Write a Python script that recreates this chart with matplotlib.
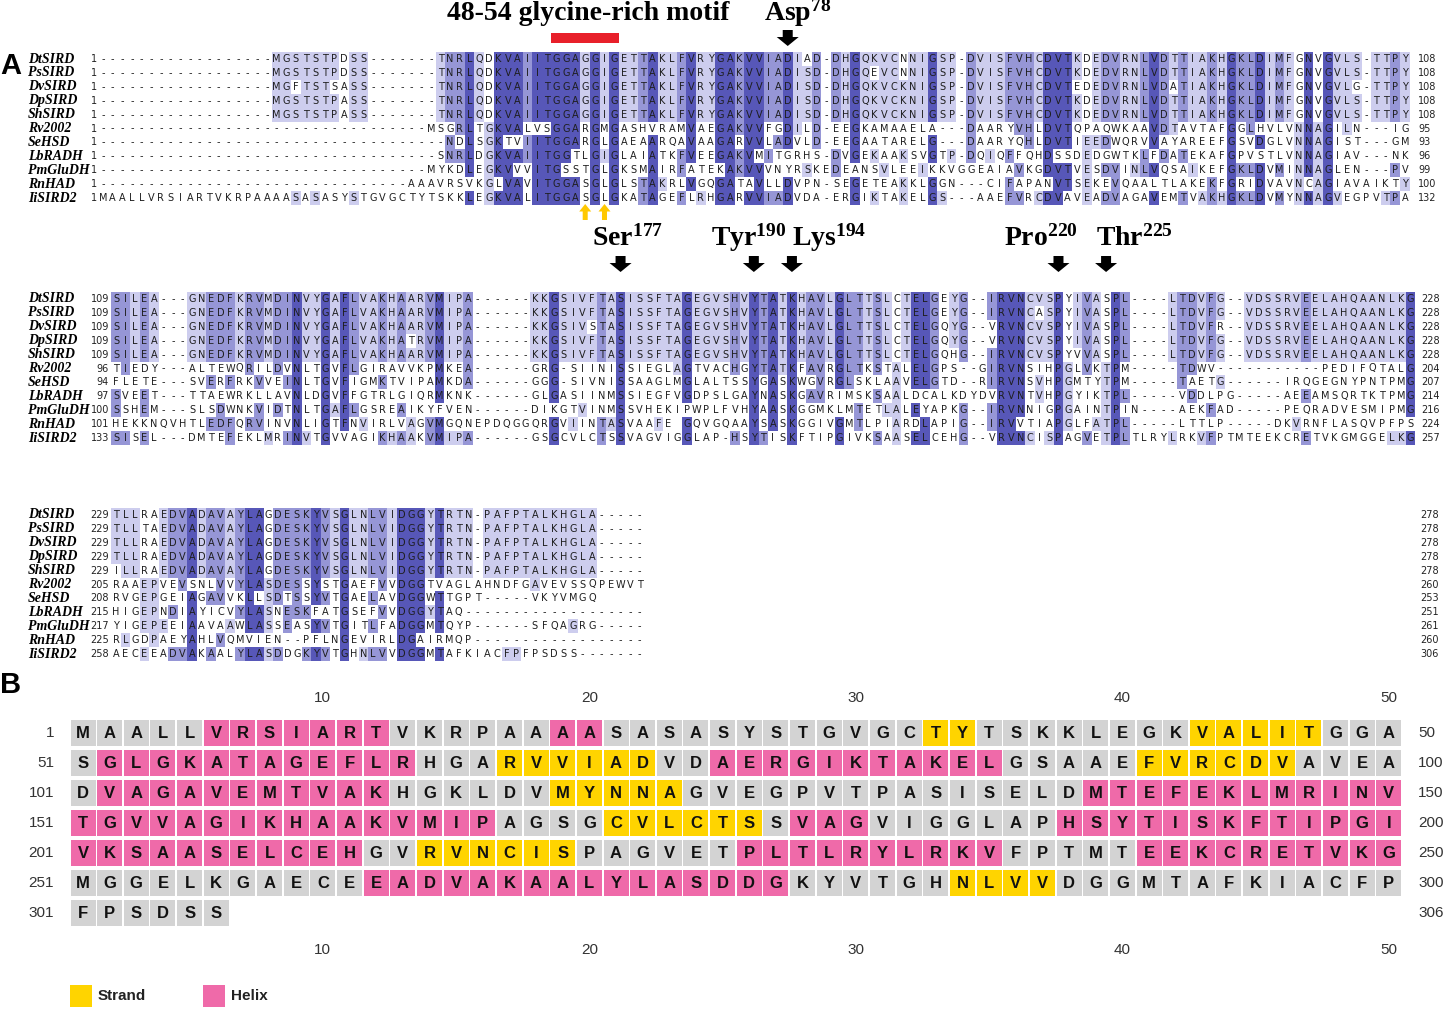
import numpy as np
import matplotlib
matplotlib.use('Agg')
import matplotlib.pyplot as plt
from matplotlib.patches import Rectangle, Polygon
from matplotlib.collections import PatchCollection

plt.rcParams['mathtext.fontset'] = 'custom'
plt.rcParams['mathtext.rm'] = 'Liberation Serif:bold'
plt.rcParams['mathtext.default'] = 'rm'

# ---------------- data ----------------
names = ['DtSIRD', 'PsSIRD', 'DvSIRD', 'DpSIRD', 'ShSIRD', 'Rv2002',
         'SeHSD', 'LbRADH', 'PmGluDH', 'RnHAD', 'IiSIRD2']

block1 = [
    '-' * 18 + 'MGSTSTPDSS' + '-' * 7 + 'TNRLQDKVAIITGGAGGIGETTAKLFVRYGAKVVIADIAD-DHGQKVCNNIGSP-DVISFVHCDVTKDEDVRNLVDTTIAKHGKLDIMFGNVGVLS-TTPY',
    '-' * 18 + 'MGSTSTPDSS' + '-' * 7 + 'TNRLQDKVAIITGGAGGIGETTAKLFVRYGAKVVIADISD-DHGQEVCNNIGSP-DVISFVHCDVTKDEDVRNLVDTTIAKHGKLDIMFGNVGVLS-TTPY',
    '-' * 18 + 'MGFTSTSASS' + '-' * 7 + 'TNRLQDKVAIITGGAGGIGETTAKLFVRYGAKVVIADISD-DHGQKVCKNIGSP-DVISFVHCDVTEDEDVRNLVDATIAKHGKLDIMFGNVGVLG-TTPY',
    '-' * 18 + 'MGSTSTPASS' + '-' * 7 + 'TNRLQDKVAIITGGAGGIGETTAKLFVRYGAKVVIADISD-DHGQKVCKNIGSP-DVISFVHCDVTKDEDVRNLVDTTIAKHGKLDIMFGNVGVLS-TTPY',
    '-' * 18 + 'MGSTSTPASS' + '-' * 7 + 'TNRLQDKVAIITGGAGGIGETTAKLFVRYGAKVVIADISD-DHGQKVCKNIGSP-DVISFVHCDVTKDEDVRNLVDTTIAKHGKLDIMFGNVGVLS-TTPY',
    '-' * 34 + 'MSGRLTGKVALVSGGARGMGASHVRAMVAEGAKVVFGDILD-EEGKAMAAELA---DAARYVHLDVTQPAQWKAAVDTAVTAFGGLHVLVNNAGILN---IG',
    '-' * 36 + 'NDLSGKTVIITGGARGLGAEAARQAVAAGARVVLADVLD-EEGAATARELG---DAARYQHLDVTIEEDWQRVVAYAREEFGSVDGLVNNAGIST---GM',
    '-' * 35 + 'SNRLDGKVAIITGGTLGIGLAIATKFVEEGAKVMITGRHS-DVGEKAAKSVGTP-DQIQFFQHDSSDEDGWTKLFDATEKAFGPVSTLVNNAGIAV---NK',
    '-' * 34 + 'MYKDLEGKVVVITGSSTGLGKSMAIRFATEKAKVVVNYRSKEDEANSVLEEIKKVGGEAIAVKGDVTVESDVINLVQSAIKEFGKLDVMINNAGLEN---PV',
    '-' * 32 + 'AAAVRSVKGLVAVITGGASGLGLSTAKRLVGQGATAVLLDVPN-SEGETEAKKLGGN---CIFAPANVTSEKEVQAALTLAKEKFGRIDVAVNCAGIAVAIKTY',
    'MAALLVRSIARTVKRPAAAASASASYSTGVGCTYTSKKLEGKVALITGGASGLGKATAGEFLRHGARVVIADVDA-ERGIKTAKELGS---AAEFVRCDVAVEADVAGAVEMTVAKHGKLDVMYNNAGVEGPVTPA',
]

block2 = [
    'SILEA---GNEDFKRVMDINVYGAFLVAKHAARVMIPA------KKGSIVFTASISSFTAGEGVSHVYTATKHAVLGLTTSLCTELGEYG--IRVNCVSPYIVASPL----LTDVFG--VDSSRVEELAHQAANLKG',
    'SILEA---GNEDFKRVMDINVYGAFLVAKHAARVMIPA------KKGSIVFTASISSFTAGEGVSHVYTATKHAVLGLTTSLCTELGEYG--IRVNCASPYIVASPL----LTDVFG--VDSSRVEELAHQAANLKG',
    'SILEA---GNEDFKRVMDINVYGAFLVAKHAARVMIPA------KKGSIVSTASISSFTAGEGVSHVYTATKHAVLGLTTSLCTELGQYG--VRVNCVSPYIVASPL----LTDVFR--VDSSRVEELAHQAANLKG',
    'SILEA---GNEDFKRVMDINVYGAFLVAKHATRVMIPA------KKGSIVFTASISSFTAGEGVSHVYTATKHAVLGLTTSLCTELGQYG--VRVNCVSPYIVASPL----LTDVFG--VDSSRVEELAHQAANLKG',
    'SILEA---GNEDFKRVMDINVYGAFLVAKHAARVMIPA------KKGSIVFTASISSFTAGEGVSHVYTATKHAVLGLTTSLCTELGQHG--IRVNCVSPYVVASPL----LTDVFG--VDSSRVEELAHQAANLKG',
    'TIEDY---ALTEWQRILDVNLTGVFLGIRAVVKPMKEA------GRG-SIINISSIEGLAGTVACHGYTATKFAVRGLTKSTALELGPS--GIRVNSIHPGLVKTPM-----TDWV-----------PEDIFQTALG',
    'FLETE---SVERFRKVVEINLTGVFIGMKTVIPAMKDA------GGG-SIVNISSAAGLMGLALTSSYGASKWGVRGLSKLAAVELGTD--RIRVNSVHPGMTYTPM-----TAETG------IRQGEGNYPNTPMG',
    'SVEET---TTAEWRKLLAVNLDGVFFGTRLGIQRMKNK------GLGASIINMSSIEGFVGDPSLGAYNASKGAVRIMSKSAALDCALKDYDVRVNTVHPGYIKTPL-----VDDLPG-----AEEAMSQRTKTPMG',
    'SSHEM---SLSDWNKVIDTNLTGAFLGSREAIKYFVEN------DIKGTVINMSSVHEKIPWPLFVHYAASKGGMKLMTETLALEYAPKG--IRVNNIGPGAINTPIN----AEKFAD-----PEQRADVESMIPMG',
    'HEKKNQVHTLEDFQRVINVNLIGTFNVIRLVAGVMGQNEPDQGGQRGVIINTASVAAFE GQVGQAAYSASKGGIVGMTLPIARDLAPIG--IRVVTIAPGLFATPL-----LTTLP-----DKVRNFLASQVPFPS',
    'SISEL---DMTEFEKLMRINVTGVVAGIKHAAKVMIPA------GSGCVLCTSSVAGVIGGLAP-HSYTISKFTIPGIVKSAASELCEHG--VRVNCISPAGVETPLTLRYLRKVFPTMTEEKCRETVKGMGGELKG',
]

block3 = [
    'TLLRAEDVADAVAYLAGDESKYVSGLNLVIDGGYTRTN-PAFPTALKHGLA-----',
    'TLLTAEDVADAVAYLAGDESKYVSGLNLVIDGGYTRTN-PAFPTALKHGLA-----',
    'TLLRAEDVADAVAYLAGDESKYVSGLNLVIDGGYTRTN-PAFPTALKHGLA-----',
    'TLLRAEDVADAVAYLAGDESKYVSGLNLVIDGGYTRTN-PAFPTALKHGLA-----',
    'ILLRAEDVADAVAYLAGDESKYVSGLNLVIDGGYTRTN-PAFPTALKHGLA-----',
    'RAAEPVEVSNLVVYLASDESSYSTGAEFVVDGGTVAGLAHNDFGAVEVSSQPEWVT',
    'RVGEPGEIAGAVVKLLSDTSSYVTGAELAVDGGWTTGPT-----VKYVMGQ     ',
    'HIGEPNDIAYICVYLASNESKFATGSEFVVDGGYTAQ' + '-' * 19,
    'YIGEPEEIAAVAAWLASSEASYVTGITLFADGGMTQYP------SFQAGRG-----',
    'RLGDPAEYAHLVQMVIEN--PFLNGEVIRLDGAIRMQP' + '-' * 18,
    'AECEEADVAKAALYLASDDGKYVTGHNLVVDGGMTAFKIACFPFPSDSS-------',
]

# secondary structure of IiSIRD2 (C coil, H helix, E strand)
ss_iisird2 = ('CCCCCHHHHHHHCCCCCCHHCCCCCCCCCCCCEECCCCCCCCEEEEECCC'
              'CHHHHHHHHHHHHCCCEEEEEECCHHHHHHHHHHHCCCCCEEEEEECCCC'
              'CHHHHHHHHHHHCCCCCCEEEEECCCCCCCCCCCCCCCHHHHHHHHHHHH'
              'HHHHHHHHHHHHHHHHCCCCEEEEEECHHHCCCCCCCHHHHHHHHHHHHH'
              'HHHHHHHHHHHCCEEEEEECCCCCCHHHHHHHHHHCCCCCHHHHHHHHHH'
              'CCCCCCCCCCCHHHHHHHHHHHHHHHHCCCCCCEEEECCCCCCCCCCCCC'
              'CCCCCC')

# (block index, alignment column, residue, number, label x offset)
motif_cols = (48, 54)
yellow_cols = [51, 53]
sites = [(0, 72, 'Asp', '78', 10),
         (1, 54, 'Ser', '177', 7),
         (1, 68, 'Tyr', '190', -5),
         (1, 72, 'Lys', '194', 37),
         (1, 100, 'Pro', '220', -18),
         (1, 105, 'Thr', '225', 28)]

# ---------------- layout ----------------
blocks = [block1, block2, block3]
col_x0 = [103, 116, 116]
col_w = [9.644, 9.52, 9.52]
row_y0 = [59, 299, 515]
row_dy = 13.9
num_right = [97, 109, 109]
end_x = [1418, 1421, 1420]
shade_cols = {1: '#cdcdee', 2: '#9696d6', 3: '#5757b8'}

fig = plt.figure(figsize=(14.46, 10.18), dpi=100)
ax = fig.add_axes([0, 0, 1, 1])
ax.set_xlim(0, 1446)
ax.set_ylim(1018, 0)
ax.axis('off')


def shade_levels(block):
    n = len(block)
    lv = np.zeros((n, len(block[0])), int)
    for c in range(len(block[0])):
        col = [s[c] for s in block]
        res = [ch for ch in col if ch not in '- ']
        if not res:
            continue
        best = max(set(res), key=res.count)
        frac = res.count(best) / n
        lvl = 3 if frac > 0.8 else 2 if frac > 0.6 else 1 if frac > 0.35 else 0
        for r, ch in enumerate(col):
            if ch == best:
                lv[r, c] = lvl
    return lv


def colx(b, c):
    return col_x0[b] + (c - 1) * col_w[b]


counts = [0] * len(names)
for b, block in enumerate(blocks):
    lv = shade_levels(block)
    rects, fcs = [], []
    for r, seq in enumerate(block):
        y = row_y0[b] + r * row_dy
        for c, ch in enumerate(seq):
            if lv[r, c]:
                rects.append(Rectangle((colx(b, c + 1) - col_w[b] / 2, y - row_dy / 2),
                                       col_w[b], row_dy))
                fcs.append(shade_cols[lv[r, c]])
    ax.add_collection(PatchCollection(rects, facecolors=fcs, edgecolors='none',
                                      antialiased=False, zorder=1))
    for r, seq in enumerate(block):
        y = row_y0[b] + r * row_dy
        ax.text(28, y, names[r], fontsize=10, family='Liberation Serif',
                weight='bold', style='italic', va='center', ha='left')
        start = counts[r] + 1
        ax.text(num_right[b], y, str(start), fontsize=7, family='DejaVu Sans',
                va='center', ha='right', color='#222222')
        for c, ch in enumerate(seq):
            if ch == ' ':
                continue
            ax.text(colx(b, c + 1), y, ch, fontsize=7, family='DejaVu Sans',
                    va='center', ha='center', color='#1e1e1e', zorder=2)
        counts[r] += sum(1 for ch in seq if ch not in '- ')
        ax.text(end_x[b], y, str(counts[r]), fontsize=7, family='DejaVu Sans',
                va='center', ha='left', color='#222222')


def down_arrow(xc, ytop, h=16, w=22, sw=10, hh=9, color='black'):
    pts = [(xc - sw / 2, ytop), (xc + sw / 2, ytop), (xc + sw / 2, ytop + h - hh),
           (xc + w / 2, ytop + h - hh), (xc, ytop + h), (xc - w / 2, ytop + h - hh),
           (xc - sw / 2, ytop + h - hh)]
    ax.add_patch(Polygon(pts, closed=True, facecolor=color, edgecolor='none', zorder=3))


def up_arrow(xc, ybot, h=16, w=12, sw=5, hh=7.5, color='#ffc800'):
    pts = [(xc - sw / 2, ybot), (xc + sw / 2, ybot), (xc + sw / 2, ybot - h + hh),
           (xc + w / 2, ybot - h + hh), (xc, ybot - h), (xc - w / 2, ybot - h + hh),
           (xc - sw / 2, ybot - h + hh)]
    ax.add_patch(Polygon(pts, closed=True, facecolor=color, edgecolor='none', zorder=3))


# glycine-rich motif
x1 = colx(0, motif_cols[0]) - col_w[0] / 2
x2 = colx(0, motif_cols[1]) + col_w[0] / 2
ax.add_patch(Rectangle((x1, 33), x2 - x1, 10, facecolor='#e8202a', edgecolor='none'))
ax.text(588, 13, '48-54 glycine-rich motif', fontsize=20, family='Liberation Serif',
        weight='bold', ha='center', va='center')
for c in yellow_cols:
    up_arrow(colx(0, c), 220)

arrow_top = [30, 256, 0]
label_y = [13, 238, 0]
for b, c, res, num, dx in sites:
    xc = colx(b, c)
    down_arrow(xc, arrow_top[b])
    ax.text(xc + dx, label_y[b], res + '$^{' + num + '}$', fontsize=20,
            family='Liberation Serif', weight='bold', ha='center', va='center')

ax.text(0, 66, 'A', fontsize=21, family='Liberation Sans', weight='bold', va='center')
ax.text(0, 685, 'B', fontsize=21, family='Liberation Sans', weight='bold', va='center')

# ---------------- panel B ----------------
seq_ii = ''.join(bl[-1] for bl in blocks).replace('-', '').replace(' ', '')
ss_colors = {'C': '#d3d3d3', 'H': '#ef6aa9', 'E': '#ffd400'}
px0, pdx = 83, 26.65
py0, pdy = 733, 30
cw, chh = 25.0, 25.5
nper = 50
cells, cfc = [], []
for i, (aa, s) in enumerate(zip(seq_ii, ss_iisird2)):
    r, c = divmod(i, nper)
    x = px0 + c * pdx
    y = py0 + r * pdy
    cells.append(Rectangle((x - cw / 2, y - chh / 2), cw, chh))
    cfc.append(ss_colors[s])
    ax.text(x, y + 0.5, aa, fontsize=12, family='Liberation Sans', weight='bold',
            ha='center', va='center', color='#111111', zorder=3)
ax.add_collection(PatchCollection(cells, facecolors=cfc, edgecolors='none', zorder=2))

nrows = (len(seq_ii) + nper - 1) // nper
for r in range(nrows):
    y = py0 + r * pdy
    ax.text(54, y, str(r * nper + 1), fontsize=11, family='Liberation Sans',
            ha='right', va='center', color='#333333')
    ax.text(1418, y, str(min((r + 1) * nper, len(seq_ii))), fontsize=11,
            family='Liberation Sans', ha='left', va='center', color='#333333')
for t in range(10, nper + 1, 10):
    x = px0 + (t - 1) * pdx
    for y in (698, 950):
        ax.text(x, y, str(t), fontsize=11, family='Liberation Sans',
                ha='center', va='center', color='#333333')

# legend
for x, lab, key in [(70, 'Strand', 'E'), (203, 'Helix', 'H')]:
    ax.add_patch(Rectangle((x, 985), 22, 22, facecolor=ss_colors[key], edgecolor='none'))
    ax.text(x + 28, 996, lab, fontsize=11, family='Liberation Sans', weight='bold',
            ha='left', va='center', color='#222222')

fig.savefig('out.png', dpi=100)
